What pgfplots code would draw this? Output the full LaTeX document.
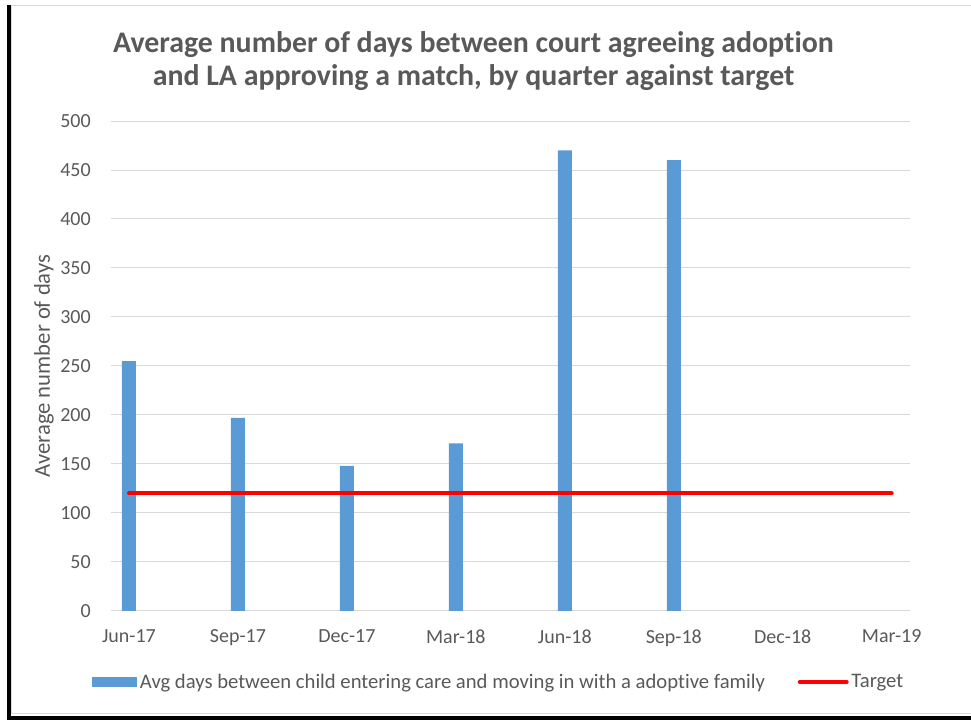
\documentclass[border=0pt]{standalone}
\usepackage{fontspec}
\setmainfont{Carlito}[Ligatures=NoCommon]
\usepackage{pgfplots}
\pgfplotsset{compat=1.18}

\definecolor{barblue}{HTML}{5B9BD5}
\definecolor{txtgray}{HTML}{595959}
\definecolor{gridgray}{HTML}{D9D9D9}

\begin{document}
\begin{tikzpicture}
\useasboundingbox (-83.25pt,-81.75pt) rectangle (645pt,458.25pt);
% chart frame with dark shadow edge
\draw[gridgray, line width=0.75pt] (-74.6pt,-77.25pt) rectangle (660pt,454.1pt);
\draw[black, line width=3pt] (-76.5pt,454.5pt) -- (-76.5pt,-81.75pt);
\draw[black, line width=3pt] (-78pt,-80.25pt) -- (660pt,-80.25pt);

\begin{axis}[
  at={(0pt,0pt)}, anchor=south west,
  scale only axis,
  width=599pt, height=367.5pt,
  xmin=-0.165, xmax=7.165,
  ymin=0, ymax=500,
  xtick={0,...,7},
  xticklabels={Jun-17,Sep-17,Dec-17,Mar-18,Jun-18,Sep-18,Dec-18,Mar-19},
  ytick={0,50,...,500},
  major tick length=0pt,
  axis line style={draw=none},
  axis x line*=bottom,
  x axis line style={draw=gridgray, line width=0.75pt},
  ymajorgrids,
  grid style={gridgray, line width=0.75pt},
  /pgf/number format/assume math mode=true,
  tick label style={font=\fontsize{15}{18}\selectfont, text=txtgray},
  yticklabel style={inner sep=0pt, xshift=-15pt},
  xticklabel style={inner sep=0pt, yshift=-14pt},
  ylabel={Average number of days},
  ylabel style={font=\fontsize{17}{20}\selectfont, text=txtgray, at={(axis description cs:-0.0839,0.5)}, anchor=center},
  legend columns=2,
  legend style={at={(axis description cs:-0.0238,-0.1449)}, anchor=west,
    draw=none, fill=none, inner sep=0pt, text=txtgray,
    font=\fontsize{15.5}{18}\selectfont,
    nodes={inner xsep=2pt, inner ysep=0pt},
    /tikz/every even column/.append style={column sep=22.5pt}},
  legend cell align=left,
]
\addplot[ybar, bar width=10.5pt, fill=barblue, draw=none,
  legend image code/.code={\fill[barblue] (0pt,-4.1pt) rectangle (33.75pt,4.1pt);}]
  coordinates {(0,255) (1,197) (2,148) (3,171) (4,470) (5,460)};
\addlegendentry{Avg days between child entering care and moving in with a adoptive family}
\addplot[red, line width=3pt, line cap=round, mark=none,
  legend image code/.code={\path (0pt,0pt) -- (35.25pt,0pt);
    \draw[red, line width=3pt, line cap=round] (1.5pt,0pt) -- (33.75pt,0pt);}]
  coordinates {(0,120) (1,120) (2,120) (3,120) (4,120) (5,120) (6,120) (7,120)};
\addlegendentry{Target}
\end{axis}

\node[anchor=base, text=txtgray, font=\fontsize{22.4}{26}\selectfont\bfseries] at (271.9pt,418.5pt) {Average number of days between court agreeing adoption};
\node[anchor=base, text=txtgray, font=\fontsize{22.4}{26}\selectfont\bfseries] at (271.9pt,393.75pt) {and LA approving a match, by quarter against target};
\end{tikzpicture}
\end{document}
